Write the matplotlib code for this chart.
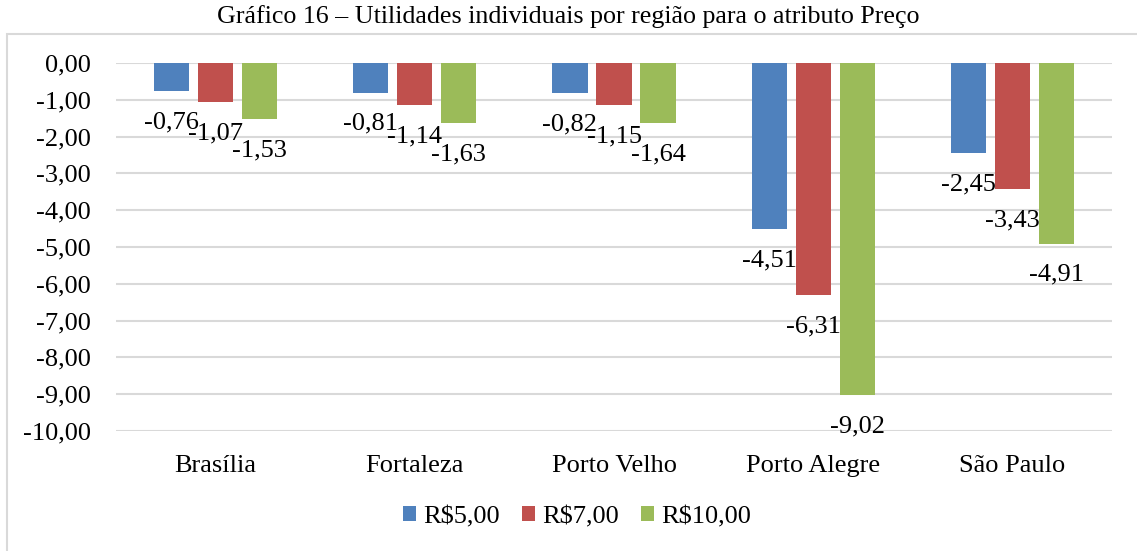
import matplotlib
matplotlib.use("Agg")
import matplotlib.pyplot as plt
import numpy as np
from matplotlib.patches import Rectangle

# ----------------------------
# Data
# ----------------------------

regions = ["Brasília", "Fortaleza", "Porto Velho", "Porto Alegre", "São Paulo"]
series_names = ["R$5,00", "R$7,00", "R$10,00"]
r5 = [-0.76, -0.81, -0.82, -4.51, -2.45]
r7 = [-1.07, -1.14, -1.15, -6.31, -3.43]
r10 = [-1.53, -1.63, -1.64, -9.02, -4.91]
y_ticks = [0, -1, -2, -3, -4, -5, -6, -7, -8, -9, -10]

colors = ["#4F81BD", "#C0504D", "#9BBB59"]

plt.rcParams["font.family"] = ["Liberation Serif", "DejaVu Serif"]
FS = 19


def fmt(v):
    return f"{v:.2f}".replace(".", ",")


fig = plt.figure(figsize=(11.37, 5.51), dpi=100)
ax = fig.add_axes([116 / 1137, 1 - 431 / 551, 996 / 1137, 368 / 551])

# outer chart border
fig.patches.append(Rectangle((7 / 1137, -0.05), 1.1, 1 - 34 / 551 + 0.05,
                             transform=fig.transFigure, fill=False,
                             edgecolor="#d9d9d9", linewidth=1.5))

x = np.arange(len(regions))
width = 0.176
step = 0.221

for i, (vals, name) in enumerate(zip([r5, r7, r10], series_names)):
    pos = x + (i - 1) * step
    ax.bar(pos, vals, width, color=colors[i], label=name, zorder=3)
    for px, v in zip(pos, vals):
        ax.annotate(fmt(v), (px, v), xytext=(0, -14.5), textcoords="offset points",
                    ha="center", va="top", fontsize=FS, color="#000000", zorder=4)

ax.set_ylim(-10, 0)
ax.set_xlim(-0.5, len(regions) - 0.5)
ax.set_yticks(y_ticks)
ax.set_yticklabels([fmt(v) for v in y_ticks], fontsize=FS)
ax.set_xticks(x)
ax.set_xticklabels(regions, fontsize=FS)
ax.tick_params(axis="both", length=0)
ax.tick_params(axis="x", pad=17)
ax.tick_params(axis="y", pad=18)
ax.yaxis.grid(True, color="#d9d9d9", linewidth=1.5, zorder=0)
ax.set_axisbelow(True)
for s in ax.spines.values():
    s.set_visible(False)

fig.text(0.5, 1 - 17 / 551, "Gráfico 16 – Utilidades individuais por região para o atributo Preço",
         ha="center", va="center", fontsize=18.7)

fig.legend(loc="center", bbox_to_anchor=(577 / 1137, 1 - 517 / 551), ncol=3, frameon=False,
           fontsize=19, handlelength=0.5, handleheight=0.5, handletextpad=0.25,
           columnspacing=0.85)

fig.savefig("out.png", dpi=100)
